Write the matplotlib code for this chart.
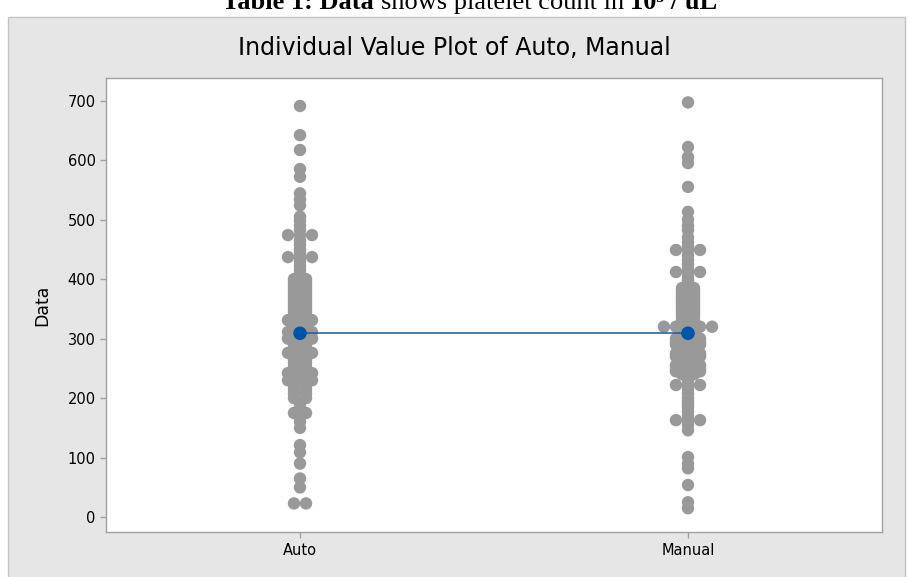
import numpy as np
import matplotlib.pyplot as plt
from matplotlib.patches import Rectangle

# valores (recuento de plaquetas)
groups = ["Auto", "Manual"]
auto = [691, 642, 617, 585, 572, 544, 534, 524, 505, 498, 490, 483,
        474, 474, 474, 465, 458, 450, 444, 437, 437, 437, 430, 422, 415,
        408, 400, 400, 395, 395, 390, 390, 385, 385, 380, 380, 375, 375,
        370, 370, 365, 365, 360, 360, 355, 355, 350, 350, 345, 345, 340,
        340, 331, 331, 331, 325, 325, 318, 318, 311, 311, 311, 305, 305,
        300, 300, 300, 295, 295, 290, 290, 285, 285, 276, 276, 276, 270,
        270, 265, 265, 259, 259, 252, 252, 242, 242, 242, 236, 236, 230,
        230, 230, 222, 222, 215, 215, 208, 208, 200, 200, 192, 185, 175,
        175, 168, 160, 150, 121, 109, 90, 65, 50, 23, 23]
manual = [697, 622, 605, 595, 555, 513, 500, 490, 482, 470, 462, 455,
          449, 449, 449, 440, 432, 425, 418, 412, 412, 412, 405, 400, 395,
          390, 385, 385, 380, 380, 375, 375, 370, 370, 365, 365, 360, 360,
          355, 355, 350, 350, 345, 345, 340, 340, 335, 335, 328, 328,
          320, 320, 320, 320, 320, 311, 311, 305, 305, 300, 300, 300,
          295, 295, 295, 290, 290, 290, 285, 285, 280, 280, 275, 275, 275,
          270, 270, 270, 265, 265, 260, 260, 255, 255, 255, 250, 250, 250,
          245, 245, 245, 240, 240, 235, 230, 222, 222, 222, 215, 208, 200,
          195, 190, 185, 178, 170, 163, 163, 163, 155, 146, 101, 90, 82,
          54, 25, 15]
means = [309, 309]

dot_color = '#999999'
mean_color = '#0054a6'


def side_offsets(values, step):
    # valores repetidos se colocan uno al lado del otro
    vals = np.array(values, dtype=float)
    offs = np.zeros(len(vals))
    for v in np.unique(vals):
        idx = np.where(vals == v)[0]
        n = len(idx)
        offs[idx] = (np.arange(n) - (n - 1) / 2) * step
    return vals, offs


fig = plt.figure(figsize=(9.08, 5.77), dpi=100)
fig.patch.set_facecolor('white')
fig.patches.append(Rectangle((8 / 908, -0.01), (905 - 8) / 908, (577 - 17) / 577 + 0.01,
                             transform=fig.transFigure, facecolor='#e6e6e6',
                             edgecolor='#c4c4c4', lw=1, zorder=-5))

ax = fig.add_axes([106 / 908, 1 - 532 / 577, (882 - 106) / 908, (532 - 78) / 577])
ax.set_facecolor('white')

for i, data in enumerate([auto, manual]):
    vals, offs = side_offsets(data, 0.031)
    ax.scatter(i + 1 + offs, vals, s=80, color=dot_color, edgecolors='none', zorder=2)

ax.plot([1, 2], means, color='#1a5aa6', lw=1.1, zorder=3)
ax.scatter([1, 2], means, s=95, color=mean_color, edgecolors='none', zorder=4)

ax.set_xlim(0.5, 2.5)
ax.set_ylim(-25, 738)
ax.set_xticks([1, 2])
ax.set_xticklabels(groups)
ax.set_yticks(range(0, 701, 100))
ax.set_ylabel('Data', fontsize=12.5, labelpad=12)

for sp in ax.spines.values():
    sp.set_color('#a0a0a0')
    sp.set_linewidth(1)
ax.tick_params(axis='both', colors='#a0a0a0', labelcolor='black', length=4, width=1,
               labelsize=10.5)
ax.tick_params(axis='x', pad=4)

fig.text(454 / 908, 1 - 48 / 577, 'Individual Value Plot of Auto, Manual',
         ha='center', va='center', fontsize=17)

# pie de tabla cortado arriba: partes en negrita y normal una tras otra
parts = [('Table 1: Data ', 'bold'), ('shows platelet count in ', 'normal'),
         ('10³ / uL', 'bold')]
renderer = fig.canvas.get_renderer()
texts = []
total = 0
for s, w in parts:
    t = fig.text(0, 1 - 9 / 577, s, ha='left', va='baseline', fontsize=19,
                 fontweight=w, family='Liberation Serif')
    bb = t.get_window_extent(renderer)
    texts.append((t, bb.width))
    total += bb.width
x = 470 - total / 2
for t, wpx in texts:
    t.set_x(x / 908)
    x += wpx

fig.savefig('out.png', dpi=100)
